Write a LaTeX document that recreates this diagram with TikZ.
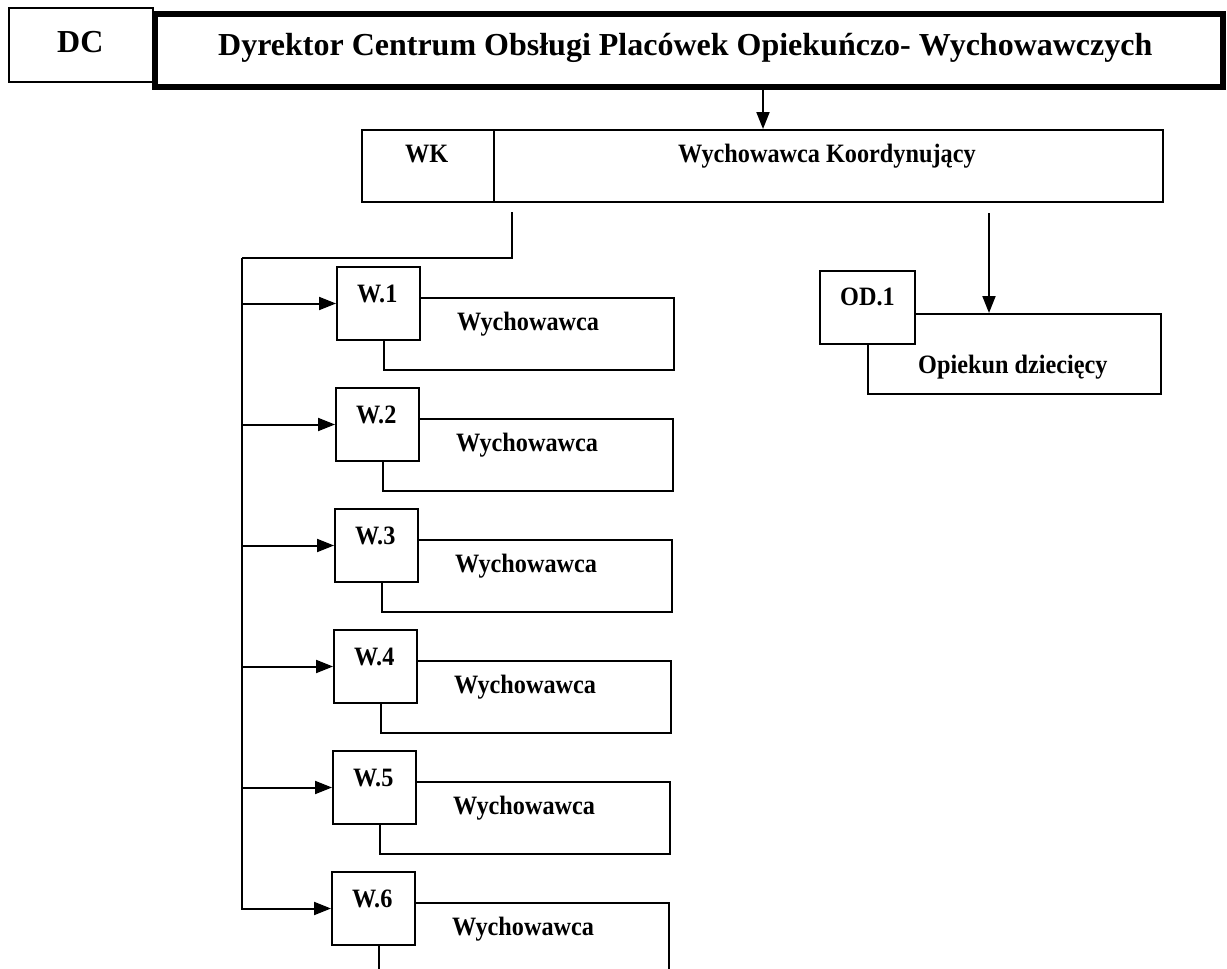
\documentclass[tikz,border=0pt]{standalone}
\usepackage{fontspec}
\setmainfont{Liberation Serif}
\newfontfamily\lblfont[FakeStretch=0.915]{Liberation Serif}
\usetikzlibrary{arrows.meta,calc}
\tikzset{
  bx/.style={draw, line width=2pt, inner sep=0pt, fill=white},
  hdr/.style={draw, line width=5.5pt, inner sep=0pt, fill=white},
  big/.style={font=\bfseries\fontsize{32}{38}\selectfont, inner sep=0pt, anchor=base west},
  lbl/.style={font=\lblfont\bfseries\fontsize{26.5}{30}\selectfont, inner sep=0pt, anchor=base west},
  ln/.style={line width=2pt},
  arr/.style={line width=2pt, -{Triangle[length=17pt,width=13pt]}},
}
\begin{document}
\begin{tikzpicture}[x=1pt,y=-1pt]
\useasboundingbox (0,0) rectangle (1227,969);
\clip (0,0) rectangle (1227,969);
% top level
\node[bx, anchor=north west, minimum width=144pt, minimum height=74pt] (DC) at (8,7) {};
\node[big] (DCt) at ($(DC.north west)+(49,45)$) {DC};
\node[hdr, anchor=north west, minimum width=1068pt, minimum height=73pt] (H) at (152,11) {};
\node[big] (Ht) at ($(H.north west)+(66,44)$) {Dyrektor Centrum Obsługi Placówek Opiekuńczo- Wychowawczych};
% WK
\node[bx, anchor=north west, minimum width=132pt, minimum height=72pt] (WK) at (361,129) {};
\node[lbl] (WKt) at ($(WK.north west)+(44,33)$) {WK};
\node[bx, anchor=north west, minimum width=669pt, minimum height=72pt] (WKL) at (493,129) {};
\node[lbl] (WKLt) at ($(WKL.north west)+(185,33)$) {Wychowawca Koordynujący};
\coordinate (a1) at (763,0);
\draw[arr] (H.south -| a1) -- (WKL.north -| a1);
% OD
\node[bx, anchor=north west, minimum width=293pt, minimum height=80pt] (ODL) at (867,313) {};
\node[lbl] (ODLt) at ($(ODL.north west)+(51,60)$) {Opiekun dziecięcy};
\node[bx, anchor=north west, minimum width=95pt, minimum height=73pt] (OD) at (819,270) {};
\node[lbl] (ODt) at ($(OD.north west)+(21,35)$) {OD.1};
\coordinate (ods) at (989,213);
\draw[arr] (ods) -- (ODL.north -| ods);
% W boxes
\foreach \i in {1,...,6} {
  \pgfmathsetmacro\t{266+121*(\i-1)}
  \pgfmathsetmacro\l{336-1*(\i-1)}
  \node[bx, anchor=north west, minimum width=290pt, minimum height=72pt] (L\i) at (\l+47,\t+31) {};
  \node[lbl] (LT\i) at ($(L\i.north west)+(74,33)$) {Wychowawca};
  \node[bx, anchor=north west, minimum width=83pt, minimum height=73pt] (S\i) at (\l,\t) {};
  \node[lbl] (ST\i) at ($(S\i.north west)+(21,36)$) {W.\i};
}
% trunk
\coordinate (ws) at (512,212);
\coordinate (tt) at (242,258);
\draw[ln] (ws) |- (tt);
\draw[arr] (tt) -- (tt |- S6.west) -- (S6.west);
\foreach \i in {1,...,5} {
  \draw[arr] (tt |- S\i.west) -- (S\i.west);
}
\end{tikzpicture}
\end{document}
